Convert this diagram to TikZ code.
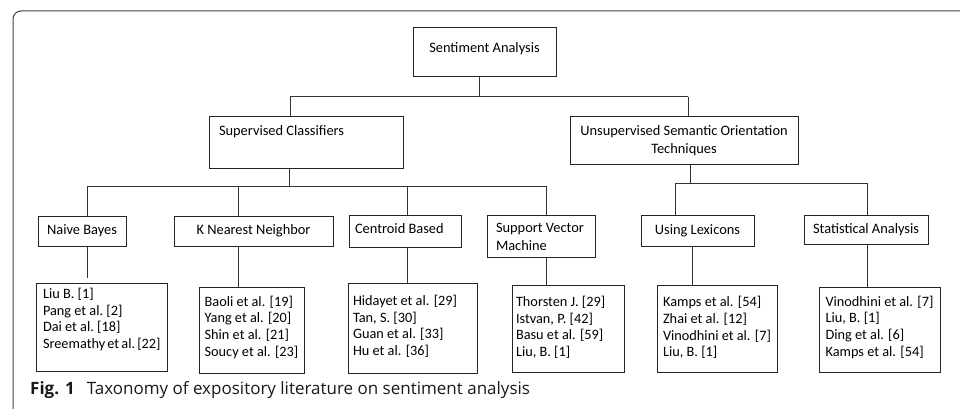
\documentclass[tikz,border=0pt]{standalone}
\usepackage{fontspec}
\setmainfont{Carlito}
\newfontfamily\capfont{Open Sans}
\newcommand{\diagfont}{\fontsize{14.4}{17.8}\selectfont}
\newcommand{\leaffont}{\fontsize{14.3}{16.7}\selectfont}
\begin{document}
\begin{tikzpicture}[x=1pt,y=-1pt,
  box/.style={draw=black!85, line width=1pt, inner sep=0pt, font=\diagfont, align=center},
  leaf/.style={box, font=\leaffont, align=flush left},
  conn/.style={draw=black!80, line width=1pt},
  frame/.style={draw=black!75, line width=1pt, rounded corners=8pt}]
\useasboundingbox (0,0) rectangle (960,409);
% outer frame
\coordinate (fb) at (13,409);
\coordinate (fc) at (13,11);
\coordinate (fr) at (960,11);
\draw[frame] (fb) -- (fc) -- (fr);

% level 0
\node[box, minimum width=143, minimum height=49, text depth=9pt] (root) at (484.5,52.5) {Sentiment Analysis};
% level 1
\node[box, minimum width=194, minimum height=51, text width=174, align=flush left, text depth=24pt] (sup) at (306,142.5) {Supervised Classifiers};
\node[box, minimum width=228, minimum height=47] (unsup) at (684,140.5) {Unsupervised Semantic Orientation\\Techniques};
% level 2
\node[box, minimum width=88, minimum height=30] (nb) at (82,231) {Naive Bayes};
\node[box, minimum width=159, minimum height=30] (knn) at (253.5,231) {K Nearest Neighbor};
\node[box, minimum width=112, minimum height=32, text width=100, align=flush left, text depth=6pt] (cb) at (405,231) {Centroid Based};
\node[box, minimum width=108, minimum height=42, align=flush left, text width=90, text depth=15.5pt] (svm) at (541,236) {Support Vector\\Machine};
\node[box, minimum width=113, minimum height=31] (ul) at (697.5,230.5) {Using Lexicons};
\node[box, minimum width=124, minimum height=29] (sa) at (866,229.5) {Statistical Analysis};
% leaves
\node[leaf, minimum width=131, minimum height=88, text width=117, text height=11pt, text depth=68pt] (nbl) at (101.5,327) {Liu~B.~[1]\\Pang~et~al.~[2]\\Dai~et~al.~[18]\\Sreemathy~et~al.~[22]};
\node[leaf, minimum width=105, minimum height=86, align=left, text depth=8pt] (knnl) at (251.5,330) {Baoli et al. [19]\\Yang et al. [20]\\Shin et al. [21]\\Soucy et al. [23]};
\node[leaf, minimum width=129, minimum height=90, text width=119, text height=11pt, text depth=56pt] (cbl) at (412.5,328) {Hidayet et al. [29]\\Tan, S. [30]\\Guan et al. [33]\\Hu et al. [36]};
\node[leaf, minimum width=112, minimum height=87, text width=104, text height=11pt, text depth=55pt] (svml) at (568,328.5) {Thorsten J. [29]\\Istvan, P. [42]\\Basu et al. [59]\\Liu, B. [1]};
\node[leaf, minimum width=120, minimum height=87, align=left, text depth=4pt] (ull) at (717,328.5) {Kamps et al. [54]\\Zhai et al. [12]\\Vinodhini et al. [7]\\Liu, B. [1]};
\node[leaf, minimum width=121, minimum height=85, align=left, text depth=7pt] (sal) at (879.5,329.5) {Vinodhini et al. [7]\\Liu, B. [1]\\Ding et al. [6]\\Kamps et al. [54]};

% connectors level 0 -> 1
\coordinate (t0) at (479,97);
\coordinate (tl) at (290,97);
\coordinate (tr) at (688,97);
\draw[conn] (root.south -| t0) -- (t0);
\draw[conn] (tl) -- (tr);
\draw[conn] (tl) -- (tl |- sup.north);
\draw[conn] (tr) -- (tr |- unsup.north);

% supervised bus
\coordinate (sb) at (289,186);
\coordinate (b1) at (87,186);
\coordinate (b2) at (238,186);
\coordinate (b3) at (407,186);
\coordinate (b4) at (546,186);
\draw[conn] (sup.south -| sb) -- (sb);
\draw[conn] (b1) -- (b4);
\draw[conn] (b1) -- (b1 |- nb.north);
\draw[conn] (b2) -- (b2 |- knn.north);
\draw[conn] (b3) -- (b3 |- cb.north);
\draw[conn] (b4) -- (b4 |- svm.north);

% unsupervised bus
\coordinate (ub) at (690,183);
\coordinate (u1) at (675,183);
\coordinate (u2) at (867,183);
\coordinate (l5) at (692,183);
\draw[conn] (unsup.south -| ub) -- (ub);
\draw[conn] (u1) -- (u2);
\draw[conn] (u1) -- (u1 |- ul.north);
\draw[conn] (u2) -- (u2 |- sa.north);

% level 2 -> leaves
\draw[conn, shorten >=5pt] (nb.south -| b1) -- (nbl.north -| b1);
\draw[conn] (knn.south -| b2) -- (knnl.north -| b2);
\draw[conn] (cb.south -| b3) -- (cbl.north -| b3);
\draw[conn] (svm.south -| b4) -- (svml.north -| b4);
\draw[conn] (ul.south -| l5) -- (ull.north -| l5);
\draw[conn] (sa.south -| u2) -- (sal.north -| u2);

% caption
\node[anchor=base west, inner sep=0pt, font=\capfont\fontsize{17}{20}\selectfont, text=black!90] (cap) at (30,394) {\textbf{Fig. 1}\hspace{12pt}Taxonomy of expository literature on sentiment analysis};
\end{tikzpicture}
\end{document}
